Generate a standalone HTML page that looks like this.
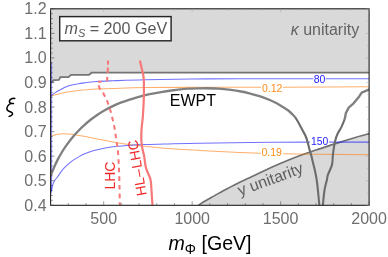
<!DOCTYPE html>
<html><head><meta charset="utf-8">
<style>
html,body{margin:0;padding:0;background:#fff;}
body{width:388px;height:257px;overflow:hidden;}
svg{display:block;font-family:"Liberation Sans",sans-serif;}
</style></head><body>
<svg width="388" height="257" viewBox="0 0 388 257">
<defs><filter id="nf" color-interpolation-filters="sRGB" filterUnits="userSpaceOnUse" x="0" y="0" width="388" height="257"><feOffset dx="0" dy="0"/></filter><clipPath id="c"><rect x="50.6" y="8.8" width="318.5" height="196.5"/></clipPath></defs>
<rect width="388" height="257" fill="#fff"/>
<g filter="url(#nf)" style="will-change:transform">
<g clip-path="url(#c)" fill="none">
<path d="M50.6,8.8 L50.6,82.7 L51.7,82.4 L53.6,80.2 L58.9,79.9 L60.4,77.1 L68.5,77.1 L71.0,74.9 L89.0,74.9 L91.5,72.7 L369.1,72.7 L370.1,8.8 Z" fill="#d9d9d9"/>
<path d="M50.6,82.7 L51.7,82.4 L53.6,80.2 L58.9,79.9 L60.4,77.1 L68.5,77.1 L71.0,74.9 L89.0,74.9 L91.5,72.7 L369.1,72.7" stroke="#747474" stroke-width="1.8"/>
<path d="M198.4,205.3 C199.4,204.7 202.0,202.8 204.2,201.5 C206.4,200.2 208.2,199.2 211.6,197.3 C215.0,195.4 220.3,192.3 224.7,190.0 C229.1,187.7 233.5,185.5 237.9,183.3 C242.3,181.1 246.6,179.1 251.0,177.0 C255.4,174.9 259.8,172.8 264.2,170.7 C268.6,168.6 272.9,166.6 277.3,164.7 C281.7,162.8 286.1,160.9 290.5,159.2 C294.9,157.5 299.2,155.9 303.6,154.3 C308.0,152.7 312.4,151.3 316.8,149.8 C321.2,148.3 325.5,146.8 329.9,145.4 C334.3,144.0 338.7,142.6 343.1,141.2 C347.5,139.8 351.8,138.5 356.2,137.2 C360.6,135.9 367.2,134.2 369.4,133.6 L370.1,205.3 Z" fill="#d9d9d9"/>
<path d="M198.4,205.3 C199.4,204.7 202.0,202.8 204.2,201.5 C206.4,200.2 208.2,199.2 211.6,197.3 C215.0,195.4 220.3,192.3 224.7,190.0 C229.1,187.7 233.5,185.5 237.9,183.3 C242.3,181.1 246.6,179.1 251.0,177.0 C255.4,174.9 259.8,172.8 264.2,170.7 C268.6,168.6 272.9,166.6 277.3,164.7 C281.7,162.8 286.1,160.9 290.5,159.2 C294.9,157.5 299.2,155.9 303.6,154.3 C308.0,152.7 312.4,151.3 316.8,149.8 C321.2,148.3 325.5,146.8 329.9,145.4 C334.3,144.0 338.7,142.6 343.1,141.2 C347.5,139.8 351.8,138.5 356.2,137.2 C360.6,135.9 367.2,134.2 369.4,133.6" stroke="#707070" stroke-width="1.65"/>
<line x1="51.6" y1="62" x2="51.6" y2="191.5" stroke="#4a4aff" stroke-width="0.7"/>
<path d="M50.6,96.2 C51.4,95.9 53.6,95.1 55.3,94.7 C56.9,94.2 58.8,93.9 60.5,93.5 C62.2,93.1 63.9,92.5 65.6,92.2 C67.3,91.9 68.6,91.8 70.8,91.5 C73.0,91.2 75.9,90.7 78.5,90.5 C81.1,90.2 83.2,90.0 86.2,89.8 C89.2,89.5 92.2,89.2 96.5,89.0 C100.8,88.8 103.9,88.6 112.0,88.4 C120.1,88.2 130.3,87.8 145.0,87.6 C159.7,87.4 180.7,87.4 200.0,87.3 C219.3,87.2 250.9,87.2 261.1,87.2" stroke="rgba(255,118,0,0.58)" stroke-width="1.05"/>
<path d="M282.9,87.2 L369.1,86.7" stroke="rgba(255,118,0,0.58)" stroke-width="1.05"/>
<path d="M50.6,96.2 C51.4,95.6 53.6,93.6 55.3,92.6 C56.9,91.5 58.8,90.6 60.5,89.7 C62.2,88.8 63.9,87.8 65.6,87.1 C67.3,86.4 68.6,85.9 70.8,85.3 C73.0,84.7 75.9,84.1 78.5,83.7 C81.1,83.2 83.2,83.0 86.2,82.6 C89.2,82.2 92.2,81.8 96.5,81.5 C100.8,81.2 103.9,81.1 112.0,80.8 C120.1,80.5 131.7,80.0 145.0,79.7 C158.3,79.4 176.2,79.2 192.0,79.0 C207.8,78.8 219.8,78.8 240.0,78.7 C260.2,78.7 301.1,78.7 313.3,78.7" stroke="rgba(10,10,255,0.58)" stroke-width="1.05"/>
<path d="M325.7,78.8 L369.1,78.8" stroke="rgba(10,10,255,0.58)" stroke-width="1.05"/>
<path d="M50.6,136.3 C50.8,136.2 50.7,136.2 51.7,135.9 C52.7,135.6 54.8,134.8 56.7,134.4 C58.6,134.1 60.2,133.8 62.9,133.8 C65.6,133.8 69.2,133.9 72.9,134.4 C76.6,134.9 81.5,135.9 85.3,136.6 C89.1,137.3 92.0,137.9 96.0,138.7 C100.0,139.5 104.2,140.3 109.4,141.2 C114.6,142.1 121.4,143.5 127.3,144.3 C133.2,145.2 138.9,145.6 145.0,146.3 C151.1,147.0 154.8,147.6 164.0,148.3 C173.2,149.0 189.0,149.8 200.0,150.4 C211.0,151.0 219.8,151.5 230.0,152.0 C240.2,152.5 255.7,153.0 260.9,153.2" stroke="rgba(255,118,0,0.58)" stroke-width="1.05"/>
<path d="M283.2,153.7 C289.3,153.8 305.7,154.1 320.0,154.3 C334.3,154.5 360.9,154.7 369.1,154.8" stroke="rgba(255,118,0,0.58)" stroke-width="1.05"/>
<path d="M50.6,194.0 C51.0,192.5 52.0,187.3 52.7,185.0 C53.4,182.7 54.1,181.4 55.0,180.0 C55.9,178.6 56.7,178.1 58.0,176.3 C59.3,174.5 61.2,171.4 62.9,169.4 C64.5,167.4 66.2,165.9 67.9,164.4 C69.6,162.9 71.0,161.7 72.9,160.4 C74.8,159.1 77.0,157.7 79.1,156.6 C81.2,155.5 83.2,154.5 85.3,153.6 C87.4,152.7 89.7,151.9 91.5,151.3 C93.3,150.7 93.0,150.8 96.0,150.1 C99.0,149.4 104.2,148.1 109.4,147.3 C114.6,146.5 121.4,145.9 127.3,145.5 C133.2,145.1 138.9,144.8 145.0,144.6 C151.1,144.3 154.8,144.2 164.0,144.0 C173.2,143.8 185.7,143.4 200.0,143.2 C214.3,142.9 231.7,142.7 250.0,142.5 C268.3,142.3 299.9,142.2 309.9,142.1" stroke="rgba(10,10,255,0.58)" stroke-width="1.05"/>
<path d="M329.2,142.1 L369.1,142.1" stroke="rgba(10,10,255,0.58)" stroke-width="1.05"/>
<path d="M50.6,175.8 C51.2,174.4 52.8,170.2 54.0,167.5 C55.2,164.8 56.4,162.2 57.7,159.6 C59.0,157.0 60.5,154.5 62.0,152.0 C63.5,149.5 65.2,147.0 66.9,144.6 C68.6,142.2 70.4,139.9 72.2,137.7 C74.0,135.5 76.0,133.3 78.0,131.2 C80.0,129.1 82.1,127.0 84.3,125.1 C86.5,123.1 88.6,121.3 90.9,119.5 C93.2,117.7 95.5,116.0 97.9,114.4 C100.3,112.8 102.7,111.4 105.2,110.0 C107.7,108.6 110.2,107.3 112.8,106.1 C115.4,104.9 118.0,103.8 120.7,102.7 C123.4,101.7 126.1,100.7 128.8,99.8 C131.5,98.9 134.3,98.1 137.1,97.3 C139.9,96.5 142.7,95.8 145.5,95.1 C148.3,94.4 151.2,93.8 154.1,93.3 C157.0,92.8 159.8,92.3 162.7,91.8 C165.6,91.3 168.5,90.9 171.4,90.5 C174.3,90.1 177.3,89.7 180.2,89.4 C183.1,89.1 186.0,88.9 188.9,88.7 C191.8,88.5 194.8,88.4 197.7,88.3 C200.6,88.2 203.6,88.2 206.5,88.2 C209.4,88.2 212.3,88.3 215.2,88.5 C218.1,88.7 221.0,88.8 223.9,89.1 C226.8,89.4 229.7,89.7 232.5,90.1 C235.3,90.5 238.2,91.0 241.0,91.5 C243.8,92.0 246.6,92.6 249.4,93.3 C252.2,94.0 254.9,94.8 257.6,95.6 C260.3,96.4 263.0,97.4 265.7,98.4 C268.4,99.4 271.0,100.5 273.6,101.8 C276.2,103.0 278.7,104.4 281.2,105.9 C283.7,107.4 286.3,108.9 288.6,110.7 C290.9,112.5 293.8,115.8 294.9,116.8" stroke="#808080" stroke-width="2.35" stroke-linejoin="round" stroke-linecap="butt"/>
<path d="M294.9,116.8 C295.5,117.8 297.4,120.8 298.7,123.0 C299.9,125.2 301.1,127.6 302.4,130.0 C303.6,132.4 305.0,134.4 306.2,137.5 C307.4,140.6 308.5,145.8 309.3,148.7 C310.1,151.6 310.6,152.8 311.1,154.9 C311.7,157.0 312.0,158.5 312.6,161.0 C313.2,163.5 314.1,166.8 314.8,170.0 C315.5,173.2 316.2,176.6 316.7,179.9 C317.2,183.2 317.4,185.8 317.9,190.0 C318.3,194.2 319.1,202.8 319.4,205.3" stroke="#6c6c6c" stroke-width="2.1" stroke-linejoin="round"/>
<path d="M322.9,205.3 C323.1,202.9 323.9,194.4 324.4,191.0 C324.8,187.6 325.2,186.7 325.6,184.9 C326.0,183.1 326.5,181.7 326.9,180.0 C327.3,178.3 327.1,177.2 327.9,174.9 C328.7,172.6 330.8,168.5 331.6,166.2 C332.4,163.9 332.3,162.7 332.5,161.0 C332.7,159.3 332.6,157.8 332.8,155.8 C333.0,153.8 333.3,151.3 333.7,148.9 C334.1,146.5 334.4,143.9 335.0,141.4 C335.6,138.9 336.4,136.4 337.5,134.0 C338.6,131.6 340.3,129.4 341.5,126.9 C342.7,124.4 344.2,120.5 344.7,119.2" stroke="#6c6c6c" stroke-width="2.1" stroke-linejoin="round"/>
<path d="M344.7,119.2 L345.9,113.0 L348.7,107.6 L353.0,103.9 L356.1,100.2 L359.2,96.4 L361.7,92.7 L369.4,89.4" stroke="#808080" stroke-width="2.4" stroke-linejoin="round"/>
<path d="M108,60.6 L108,64.8 M107.8,67.6 L107.7,73 M107.3,76.9 L107.1,81.2 M98.2,81.7 L101.6,81.7" stroke="#f77878" stroke-width="2.05"/>
<path d="M98.5,84.7 C98.8,85.5 99.4,88.0 100.1,89.3 C100.8,90.6 101.9,91.1 102.8,92.4 C103.7,93.7 104.5,95.7 105.3,97.3 C106.1,98.9 106.7,99.8 107.5,102.0 C108.3,104.2 109.5,107.4 110.3,110.2 C111.1,113.0 111.8,115.9 112.5,118.7 C113.2,121.5 113.9,124.4 114.4,127.3 C115.0,130.2 115.4,133.5 115.8,136.3 C116.2,139.2 116.6,141.7 117.0,144.4 C117.4,147.1 117.7,149.1 118.0,152.5 C118.3,155.9 118.6,160.8 118.8,165.0 C119.0,169.2 119.2,173.5 119.3,178.0 C119.4,182.5 119.5,187.4 119.6,192.0 C119.7,196.6 119.8,203.1 119.8,205.3" stroke="#f77878" stroke-width="2.05" stroke-dasharray="4.6 4" stroke-dashoffset="-0.7"/>
<path d="M139.9,60.6 C140.2,61.8 141.0,65.4 141.5,67.6 C142.0,69.8 142.6,71.7 143.0,73.8 C143.4,75.9 143.7,77.0 143.8,80.0 C144.0,83.0 143.9,88.2 143.9,91.8 C143.9,95.4 143.9,97.8 143.7,101.8 C143.5,105.8 143.2,111.6 142.9,116.0 C142.6,120.4 141.9,124.5 141.6,128.4 C141.3,132.3 141.2,136.2 141.3,139.3 C141.4,142.4 141.6,144.3 142.1,147.1 C142.6,149.8 143.4,152.3 144.1,155.8 C144.8,159.3 144.9,164.0 146.0,168.0 C147.1,172.0 149.6,175.6 150.5,179.6 C151.4,183.6 151.3,187.7 151.6,192.0 C151.9,196.3 152.3,203.1 152.5,205.3" stroke="#f77878" stroke-width="2.2"/>
</g>
<g font-size="10.5" text-anchor="middle">
<text x="319.5" y="83.1" fill="#1c1cff">80</text>
<text x="319.7" y="145.3" fill="#1c1cff" font-size="10.35">150</text>
<text x="272.2" y="92.4" fill="#ff8c1a">0.12</text>
<text x="271.7" y="156.4" fill="#ff8c1a">0.19</text>
</g>
<text x="169.8" y="106.2" font-size="16" fill="#000">EWPT</text>
<text x="290.7" y="35.4" font-size="16" fill="#626262"><tspan font-style="italic">κ</tspan> unitarity</text>
<text transform="translate(240,196) rotate(-20)" font-size="16" fill="#5e5e5e">y unitarity</text>
<text transform="translate(115.3,189.4) rotate(-90)" font-size="13.9" fill="#f42828">LHC</text>
<text transform="translate(146.7,194.9) rotate(-99.5)" font-size="14.2" fill="#f42828">HL<tspan dx="0.9">–</tspan><tspan dx="0.9">LHC</tspan></text>
<rect x="59.7" y="16.6" width="111.4" height="24.2" fill="#fff" stroke="#262626" stroke-width="1.45"/>
<text x="64.5" y="34.3" font-size="16.1" fill="#585858"><tspan font-style="italic">m</tspan><tspan font-style="italic" font-size="11" dy="3">S</tspan><tspan dy="-3"> = 200 GeV</tspan></text>
<rect x="50.6" y="8.8" width="318.5" height="196.5" fill="none" stroke="#151515" stroke-width="1.05"/>
<g stroke="#555" stroke-width="0.6">
<line x1="50.60" y1="205.3" x2="50.60" y2="203.0"/>
<line x1="68.29" y1="205.3" x2="68.29" y2="203.0"/>
<line x1="85.99" y1="205.3" x2="85.99" y2="203.0"/>
<line x1="103.68" y1="205.3" x2="103.68" y2="201.3"/>
<line x1="121.38" y1="205.3" x2="121.38" y2="203.0"/>
<line x1="139.07" y1="205.3" x2="139.07" y2="203.0"/>
<line x1="156.77" y1="205.3" x2="156.77" y2="203.0"/>
<line x1="174.46" y1="205.3" x2="174.46" y2="203.0"/>
<line x1="192.16" y1="205.3" x2="192.16" y2="201.3"/>
<line x1="209.85" y1="205.3" x2="209.85" y2="203.0"/>
<line x1="227.54" y1="205.3" x2="227.54" y2="203.0"/>
<line x1="245.24" y1="205.3" x2="245.24" y2="203.0"/>
<line x1="262.93" y1="205.3" x2="262.93" y2="203.0"/>
<line x1="280.63" y1="205.3" x2="280.63" y2="201.3"/>
<line x1="298.32" y1="205.3" x2="298.32" y2="203.0"/>
<line x1="316.02" y1="205.3" x2="316.02" y2="203.0"/>
<line x1="333.71" y1="205.3" x2="333.71" y2="203.0"/>
<line x1="351.41" y1="205.3" x2="351.41" y2="203.0"/>
<line x1="369.10" y1="205.3" x2="369.10" y2="201.3"/>
</g>
<g stroke="#444" stroke-width="0.6">
<line x1="50.6" y1="205.30" x2="54.4" y2="205.30"/>
<line x1="50.6" y1="200.39" x2="52.7" y2="200.39"/>
<line x1="50.6" y1="195.48" x2="52.7" y2="195.48"/>
<line x1="50.6" y1="190.56" x2="52.7" y2="190.56"/>
<line x1="50.6" y1="185.65" x2="52.7" y2="185.65"/>
<line x1="50.6" y1="180.74" x2="54.4" y2="180.74"/>
<line x1="50.6" y1="175.83" x2="52.7" y2="175.83"/>
<line x1="50.6" y1="170.91" x2="52.7" y2="170.91"/>
<line x1="50.6" y1="166.00" x2="52.7" y2="166.00"/>
<line x1="50.6" y1="161.09" x2="52.7" y2="161.09"/>
<line x1="50.6" y1="156.18" x2="54.4" y2="156.18"/>
<line x1="50.6" y1="151.26" x2="52.7" y2="151.26"/>
<line x1="50.6" y1="146.35" x2="52.7" y2="146.35"/>
<line x1="50.6" y1="141.44" x2="52.7" y2="141.44"/>
<line x1="50.6" y1="136.53" x2="52.7" y2="136.53"/>
<line x1="50.6" y1="131.61" x2="54.4" y2="131.61"/>
<line x1="50.6" y1="126.70" x2="52.7" y2="126.70"/>
<line x1="50.6" y1="121.79" x2="52.7" y2="121.79"/>
<line x1="50.6" y1="116.88" x2="52.7" y2="116.88"/>
<line x1="50.6" y1="111.96" x2="52.7" y2="111.96"/>
<line x1="50.6" y1="107.05" x2="54.4" y2="107.05"/>
<line x1="50.6" y1="102.14" x2="52.7" y2="102.14"/>
<line x1="50.6" y1="97.23" x2="52.7" y2="97.23"/>
<line x1="50.6" y1="92.31" x2="52.7" y2="92.31"/>
<line x1="50.6" y1="87.40" x2="52.7" y2="87.40"/>
<line x1="50.6" y1="82.49" x2="54.4" y2="82.49"/>
<line x1="50.6" y1="77.58" x2="52.7" y2="77.58"/>
<line x1="50.6" y1="72.66" x2="52.7" y2="72.66"/>
<line x1="50.6" y1="67.75" x2="52.7" y2="67.75"/>
<line x1="50.6" y1="62.84" x2="52.7" y2="62.84"/>
<line x1="50.6" y1="57.93" x2="54.4" y2="57.93"/>
<line x1="50.6" y1="53.01" x2="52.7" y2="53.01"/>
<line x1="50.6" y1="48.10" x2="52.7" y2="48.10"/>
<line x1="50.6" y1="43.19" x2="52.7" y2="43.19"/>
<line x1="50.6" y1="38.28" x2="52.7" y2="38.28"/>
<line x1="50.6" y1="33.36" x2="54.4" y2="33.36"/>
<line x1="50.6" y1="28.45" x2="52.7" y2="28.45"/>
<line x1="50.6" y1="23.54" x2="52.7" y2="23.54"/>
<line x1="50.6" y1="18.63" x2="52.7" y2="18.63"/>
<line x1="50.6" y1="13.71" x2="52.7" y2="13.71"/>
<line x1="50.6" y1="8.80" x2="54.4" y2="8.80"/>
</g>
<g stroke="#9a9a9a" stroke-width="0.45">
<line x1="369.1" y1="205.30" x2="366.1" y2="205.30"/>
<line x1="369.1" y1="193.02" x2="367.1" y2="193.02"/>
<line x1="369.1" y1="180.74" x2="366.1" y2="180.74"/>
<line x1="369.1" y1="168.46" x2="367.1" y2="168.46"/>
<line x1="369.1" y1="156.18" x2="366.1" y2="156.18"/>
<line x1="369.1" y1="143.89" x2="367.1" y2="143.89"/>
<line x1="369.1" y1="131.61" x2="366.1" y2="131.61"/>
<line x1="369.1" y1="119.33" x2="367.1" y2="119.33"/>
<line x1="369.1" y1="107.05" x2="366.1" y2="107.05"/>
<line x1="369.1" y1="94.77" x2="367.1" y2="94.77"/>
<line x1="369.1" y1="82.49" x2="366.1" y2="82.49"/>
<line x1="369.1" y1="70.21" x2="367.1" y2="70.21"/>
<line x1="369.1" y1="57.92" x2="366.1" y2="57.92"/>
<line x1="369.1" y1="45.64" x2="367.1" y2="45.64"/>
<line x1="369.1" y1="33.36" x2="366.1" y2="33.36"/>
<line x1="369.1" y1="21.08" x2="367.1" y2="21.08"/>
<line x1="369.1" y1="8.80" x2="366.1" y2="8.80"/>
<line x1="50.60" y1="8.8" x2="50.60" y2="10.64"/>
<line x1="68.29" y1="8.8" x2="68.29" y2="10.64"/>
<line x1="85.99" y1="8.8" x2="85.99" y2="10.64"/>
<line x1="103.68" y1="8.8" x2="103.68" y2="12.0"/>
<line x1="121.38" y1="8.8" x2="121.38" y2="10.64"/>
<line x1="139.07" y1="8.8" x2="139.07" y2="10.64"/>
<line x1="156.77" y1="8.8" x2="156.77" y2="10.64"/>
<line x1="174.46" y1="8.8" x2="174.46" y2="10.64"/>
<line x1="192.16" y1="8.8" x2="192.16" y2="12.0"/>
<line x1="209.85" y1="8.8" x2="209.85" y2="10.64"/>
<line x1="227.54" y1="8.8" x2="227.54" y2="10.64"/>
<line x1="245.24" y1="8.8" x2="245.24" y2="10.64"/>
<line x1="262.93" y1="8.8" x2="262.93" y2="10.64"/>
<line x1="280.63" y1="8.8" x2="280.63" y2="12.0"/>
<line x1="298.32" y1="8.8" x2="298.32" y2="10.64"/>
<line x1="316.02" y1="8.8" x2="316.02" y2="10.64"/>
<line x1="333.71" y1="8.8" x2="333.71" y2="10.64"/>
<line x1="351.41" y1="8.8" x2="351.41" y2="10.64"/>
<line x1="369.10" y1="8.8" x2="369.10" y2="12.0"/>
</g>
<g font-size="16" fill="#6e6e6e" text-anchor="end">
<text x="46.6" y="14.3">1.2</text>
<text x="46.6" y="38.9">1.1</text>
<text x="46.6" y="63.4">1.0</text>
<text x="46.6" y="88.0">0.9</text>
<text x="46.6" y="112.5">0.8</text>
<text x="46.6" y="137.1">0.7</text>
<text x="46.6" y="161.7">0.6</text>
<text x="46.6" y="186.2">0.5</text>
<text x="46.6" y="210.8">0.4</text>
</g>
<g font-size="16" fill="#6e6e6e" text-anchor="middle">
<text x="103.7" y="224.3">500</text>
<text x="192.2" y="224.3">1000</text>
<text x="280.6" y="224.3">1500</text>
<text x="369.1" y="224.3">2000</text>
</g>
<text x="168.5" y="250.1" font-size="19.6" fill="#000"><tspan font-style="italic">m</tspan><tspan font-size="14" dy="3.5">Φ</tspan><tspan dy="-3.5"> [GeV]</tspan></text>
<path d="M14.78,98.46 C12.96,98.05 10.13,98.86 9.42,100.89 C9.01,102.51 10.53,103.42 13.47,103.62 M11.34,103.42 C8.91,104.33 6.89,106.66 6.89,108.99 C6.89,111.01 9.32,111.42 11.34,112.23 C12.96,112.94 12.96,114.25 11.34,115.47 C10.63,115.97 9.82,116.28 9.11,116.38" fill="none" stroke="#000" stroke-width="1.5" stroke-linecap="round" stroke-linejoin="round"/>
</g>
</svg>
</body></html>
